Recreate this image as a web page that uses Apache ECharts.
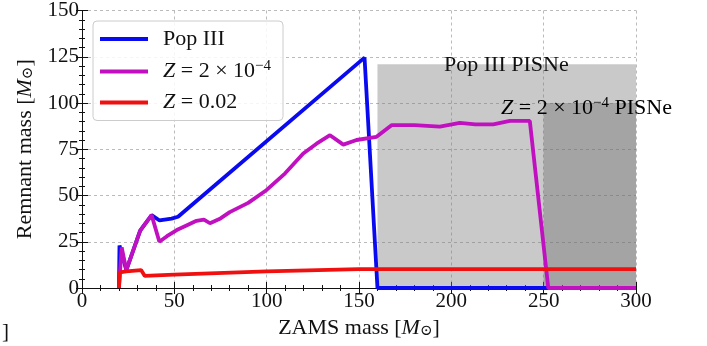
<!DOCTYPE html>
<html>
<head>
<meta charset="utf-8">
<script src="https://cdn.jsdelivr.net/npm/echarts@6/dist/echarts.min.js"></script>
<style>
  html, body { margin: 0; padding: 0; background: #fff; }
  #chart { width: 707px; height: 346px; }
</style>
</head>
<body>
<div id="chart"></div>
<script>
// ZAMS mass -> remnant mass
const popMass = [20, 20.3, 24, 31.5, 37.7, 42, 48.5, 52, 153, 160, 300];
const popRem  = [0, 23, 9.7, 31, 39.4, 36.5, 37.5, 38.5, 124.5, 0, 0];

const zLowMass = [20, 21.5, 24, 31.5, 37.7, 41.9, 46, 51.3, 56, 62, 66, 69.3, 75, 80, 90, 100, 110, 119.8, 127, 134.3, 141.5, 148.7, 159.5, 167.6, 180, 193.8, 204.6, 213, 222.7, 231.7, 242.5, 252.5, 300];
const zLowRem  = [0, 22, 9.7, 31, 39.4, 25, 28, 31.3, 33.5, 36.3, 37, 35, 37.6, 41, 46, 53, 62, 72.7, 78, 82.6, 77.5, 80, 81.7, 88, 88, 87.2, 89.2, 88.5, 88.5, 90.3, 90.3, 0, 0];

const zSolMass = [20, 20.5, 24, 32, 34, 50, 100, 150, 300];
const zSolRem  = [0, 8.5, 9, 9.7, 6.5, 7.2, 9, 10.2, 10.2];

// PISN regions: [mass from, mass to, remnant top]
const popPisne = [160, 300, 121];
const zPisne = [250, 300, 100];

const seriesNames = ['Pop III', 'Z=2e-4', 'Z=0.02'];
const xTicks = [0, 300, 50];
const yTicks = [0, 150, 25];

const FONT = '"Liberation Serif", "DejaVu Serif", serif';
const FS = 21;
const FL = 22;
const pairs = (xs, ys) => xs.map((x, i) => [x, ys[i]]);

const chart = echarts.init(document.getElementById('chart'));

const richText = {
    i: { fontStyle: 'italic', fontFamily: FONT, fontSize: FL, color: '#111' },
    n: { fontFamily: FONT, fontSize: FL, color: '#111' },
    sup: { fontFamily: FONT, fontSize: 15, color: '#111', padding: [0, 0, 10, 0] },
    sub: { fontFamily: FONT, fontSize: 15, color: '#111', padding: [7, 0, 0, 0] }
};

const tickCommon = {
    axisLine: { show: true, lineStyle: { color: '#111', width: 1 } },
    axisTick: { show: true, inside: true, length: 6, lineStyle: { color: '#111' } },
    minorTick: { show: true, splitNumber: 5, length: 3, lineStyle: { color: '#111' } }
};

const lineSeries = (name, xs, ys, color) => ({
    name: name,
    type: 'line',
    data: pairs(xs, ys),
    symbol: 'none',
    z: 3,
    lineStyle: { color: color, width: 3.8 },
    itemStyle: { color: color }
});

const option = {
    animation: false,
    backgroundColor: '#fff',
    grid: { left: 82, right: 71, top: 10, bottom: 58 },
    xAxis: [
        Object.assign({
            type: 'value', min: xTicks[0], max: xTicks[1], interval: xTicks[2],
            position: 'bottom',
            name: '{n|ZAMS mass [}{i|M}{sub|⊙}{n|]}',
            nameLocation: 'middle', nameGap: 29,
            nameTextStyle: { rich: richText },
            axisLabel: { fontFamily: FONT, fontSize: FS, color: '#111', margin: 3 },
            splitLine: { show: true, lineStyle: { color: '#bbb', type: [3, 3] } }
        }, tickCommon),
        Object.assign({
            type: 'value', min: xTicks[0], max: xTicks[1], interval: xTicks[2],
            position: 'top',
            axisLabel: { show: false },
            splitLine: { show: false }
        }, tickCommon)
    ],
    yAxis: [
        Object.assign({
            type: 'value', min: yTicks[0], max: yTicks[1], interval: yTicks[2],
            position: 'left',
            name: '{n|Remnant mass [}{i|M}{sub|⊙}{n|]}',
            nameLocation: 'middle', nameGap: 46,
            nameTextStyle: { rich: richText },
            axisLabel: { fontFamily: FONT, fontSize: FS, color: '#111', margin: 3 },
            splitLine: { show: true, lineStyle: { color: '#bbb', type: [3, 3] } }
        }, tickCommon),
        Object.assign({
            type: 'value', min: yTicks[0], max: yTicks[1], interval: yTicks[2],
            position: 'right',
            axisLabel: { show: false },
            splitLine: { show: false }
        }, tickCommon)
    ],
    legend: {
        data: seriesNames,
        orient: 'vertical',
        left: 93, top: 21,
        padding: [7, 12, 7, 7],
        itemGap: 9,
        itemWidth: 48, itemHeight: 4,
        icon: 'rect',
        backgroundColor: 'rgba(255,255,255,0.85)',
        borderColor: '#ccc', borderWidth: 1, borderRadius: 4,
        textStyle: { fontFamily: FONT, fontSize: FL, color: '#111', rich: richText, padding: [0, 0, 0, 10] },
        formatter: function (name) {
            if (name === 'Z=2e-4') return '{i|Z}{n| = 2 × 10}{sup|−4}';
            if (name === 'Z=0.02') return '{i|Z}{n| = 0.02}';
            return '{n|' + name + '}';
        }
    },
    series: [
        {
            name: 'pisne',
            type: 'line',
            data: [],
            z: 1,
            markArea: {
                silent: true,
                label: { show: false },
                data: [
                    [{ coord: [popPisne[0], 0], itemStyle: { color: 'rgba(120,120,120,0.4)' } },
                     { coord: [popPisne[1], popPisne[2]] }],
                    [{ coord: [zPisne[0], 0], itemStyle: { color: 'rgba(100,100,100,0.36)' } },
                     { coord: [zPisne[1], zPisne[2]] }]
                ]
            }
        },
        lineSeries('Pop III', popMass, popRem, '#0a0af0'),
        lineSeries('Z=2e-4', zLowMass, zLowRem, '#c010c0'),
        lineSeries('Z=0.02', zSolMass, zSolRem, '#f01010')
    ],
    graphic: [
        {
            type: 'text', left: 444, top: 54, z: 10,
            style: { text: 'Pop III PISNe', font: FL + 'px ' + FONT, fill: '#111' }
        },
        {
            type: 'text', left: 501, top: 96, z: 10,
            style: { text: '{i|Z}{n| = 2 × 10}{sup|−4}{n| PISNe}', rich: richText }
        },
        {
            type: 'text', left: 2, top: 322, z: 10,
            style: { text: ']', font: FS + 'px ' + FONT, fill: '#111' }
        }
    ]
};

chart.setOption(option);
</script>
</body>
</html>
